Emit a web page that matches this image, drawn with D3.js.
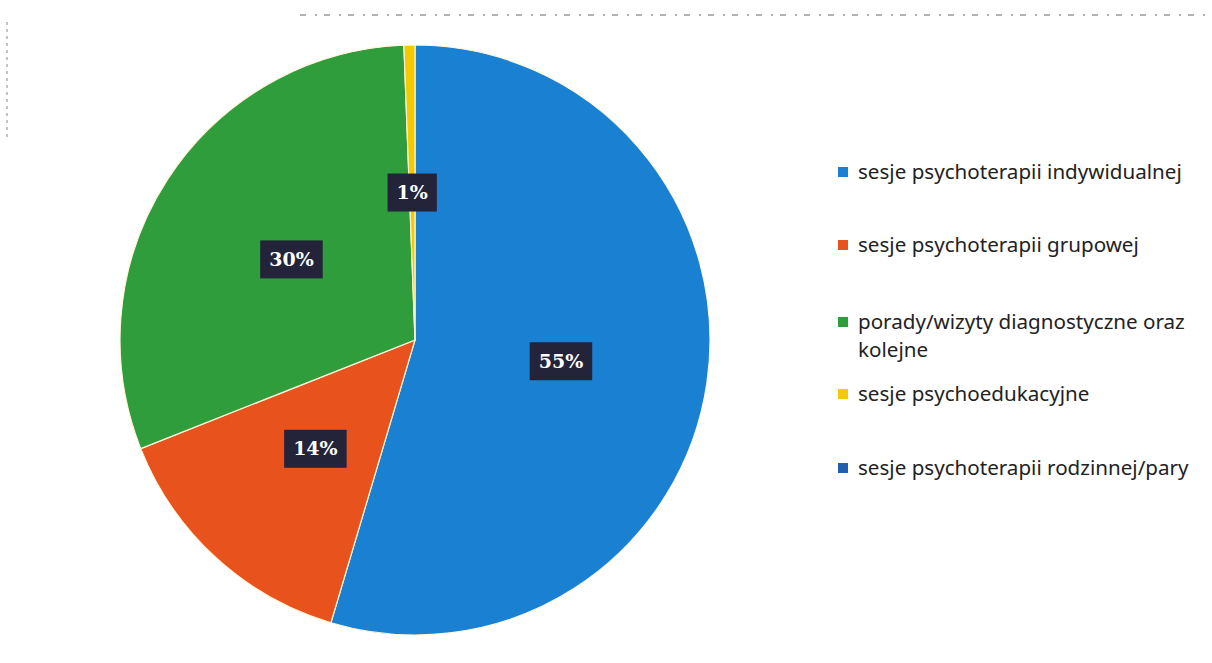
<!DOCTYPE html>
<html>
<head>
<meta charset="utf-8">
<title>Pie chart</title>
<style type="text/css">
  html, body { margin: 0; padding: 0; background: #fff; }
  .legend-text { font-family: "Noto Sans", "Open Sans", sans-serif; font-size: 20.6px; fill: #222; }
  .slice-label { font-family: "DejaVu Serif", serif; font-weight: bold; font-size: 19px; fill: #fff; }
</style>
</head>
<body>
<div id="chart"></div>
<script src="https://d3js.org/d3.v7.min.js"></script>
<script>
  var categories = [
    "sesje psychoterapii indywidualnej",
    "sesje psychoterapii grupowej",
    "porady/wizyty diagnostyczne oraz kolejne",
    "sesje psychoedukacyjne",
    "sesje psychoterapii rodzinnej/pary"
  ];
  var shares = [54.6, 14.4, 30.4, 0.6, 0];
  var colors = ["#1a80d2", "#e8521c", "#2f9d3b", "#f4c900", "#1f5fae"];
  // legend labels, wrapped as in the original
  var legendLines = [
    ["sesje psychoterapii indywidualnej"],
    ["sesje psychoterapii grupowej"],
    ["porady/wizyty diagnostyczne oraz", "kolejne"],
    ["sesje psychoedukacyjne"],
    ["sesje psychoterapii rodzinnej/pary"]
  ];

  var width = 1212,
      height = 663,
      cx = 415,
      cy = 340,
      radius = 295;

  var svg = d3.select("#chart").append("svg")
      .attr("width", width)
      .attr("height", height);

  // faint scan edges of the original page
  svg.append("line").attr("x1", 7).attr("y1", 22).attr("x2", 7).attr("y2", 140)
      .attr("stroke", "#888").attr("stroke-width", 1).attr("stroke-dasharray", "3,4");
  svg.append("line").attr("x1", 300).attr("y1", 15).attr("x2", 1205).attr("y2", 15)
      .attr("stroke", "#999").attr("stroke-width", 1.5).attr("stroke-dasharray", "6,9,2,7");

  var data = categories.map(function (c, i) {
    return { name: c, value: shares[i], color: colors[i] };
  });

  var total = d3.sum(shares);

  var pie = d3.pie().sort(null).value(function (d) { return d.value; });
  var arc = d3.arc().innerRadius(0).outerRadius(radius);

  var arcs = pie(data).filter(function (d) { return d.data.value > 0; });

  var pieGroup = svg.append("g").attr("transform", "translate(" + cx + "," + cy + ")");

  pieGroup.selectAll("path")
    .data(arcs)
    .enter().append("path")
      .attr("d", arc)
      .attr("fill", function (d) { return d.data.color; })
      .attr("stroke", "#fff6d8")
      .attr("stroke-width", 1.2);

  // data labels in dark callout boxes
  var labels = pieGroup.selectAll("g.lbl")
    .data(arcs)
    .enter().append("g")
      .attr("class", "lbl")
      .attr("transform", function (d) {
        var c = arc.centroid(d);
        return "translate(" + c[0] + "," + c[1] + ")";
      });

  labels.each(function (d) {
    var g = d3.select(this);
    var t = g.append("text")
        .attr("class", "slice-label")
        .attr("text-anchor", "middle")
        .attr("dy", "0.35em")
        .text(Math.round(d.data.value / total * 100) + "%");
    var bb = t.node().getBBox();
    g.insert("rect", "text")
        .attr("x", bb.x - 9)
        .attr("y", -19)
        .attr("width", bb.width + 18)
        .attr("height", 38)
        .attr("fill", "#23233a");
  });

  // legend
  var legendY = [172, 245, 322, 394, 468];
  var legend = svg.append("g").attr("transform", "translate(838,0)");

  var items = legend.selectAll("g")
    .data(data)
    .enter().append("g")
      .attr("transform", function (d, i) { return "translate(0," + legendY[i] + ")"; });

  items.append("rect")
      .attr("x", 0).attr("y", -5)
      .attr("width", 10).attr("height", 10)
      .attr("fill", function (d) { return d.color; });

  items.append("text")
      .attr("class", "legend-text")
      .attr("x", 20)
      .attr("y", 0)
      .each(function (d, i) {
        var t = d3.select(this);
        legendLines[i].forEach(function (line, j) {
          t.append("tspan")
            .attr("x", 20)
            .attr("dy", j === 0 ? "0.35em" : "1.35em")
            .text(line);
        });
      });
</script>
</body>
</html>
